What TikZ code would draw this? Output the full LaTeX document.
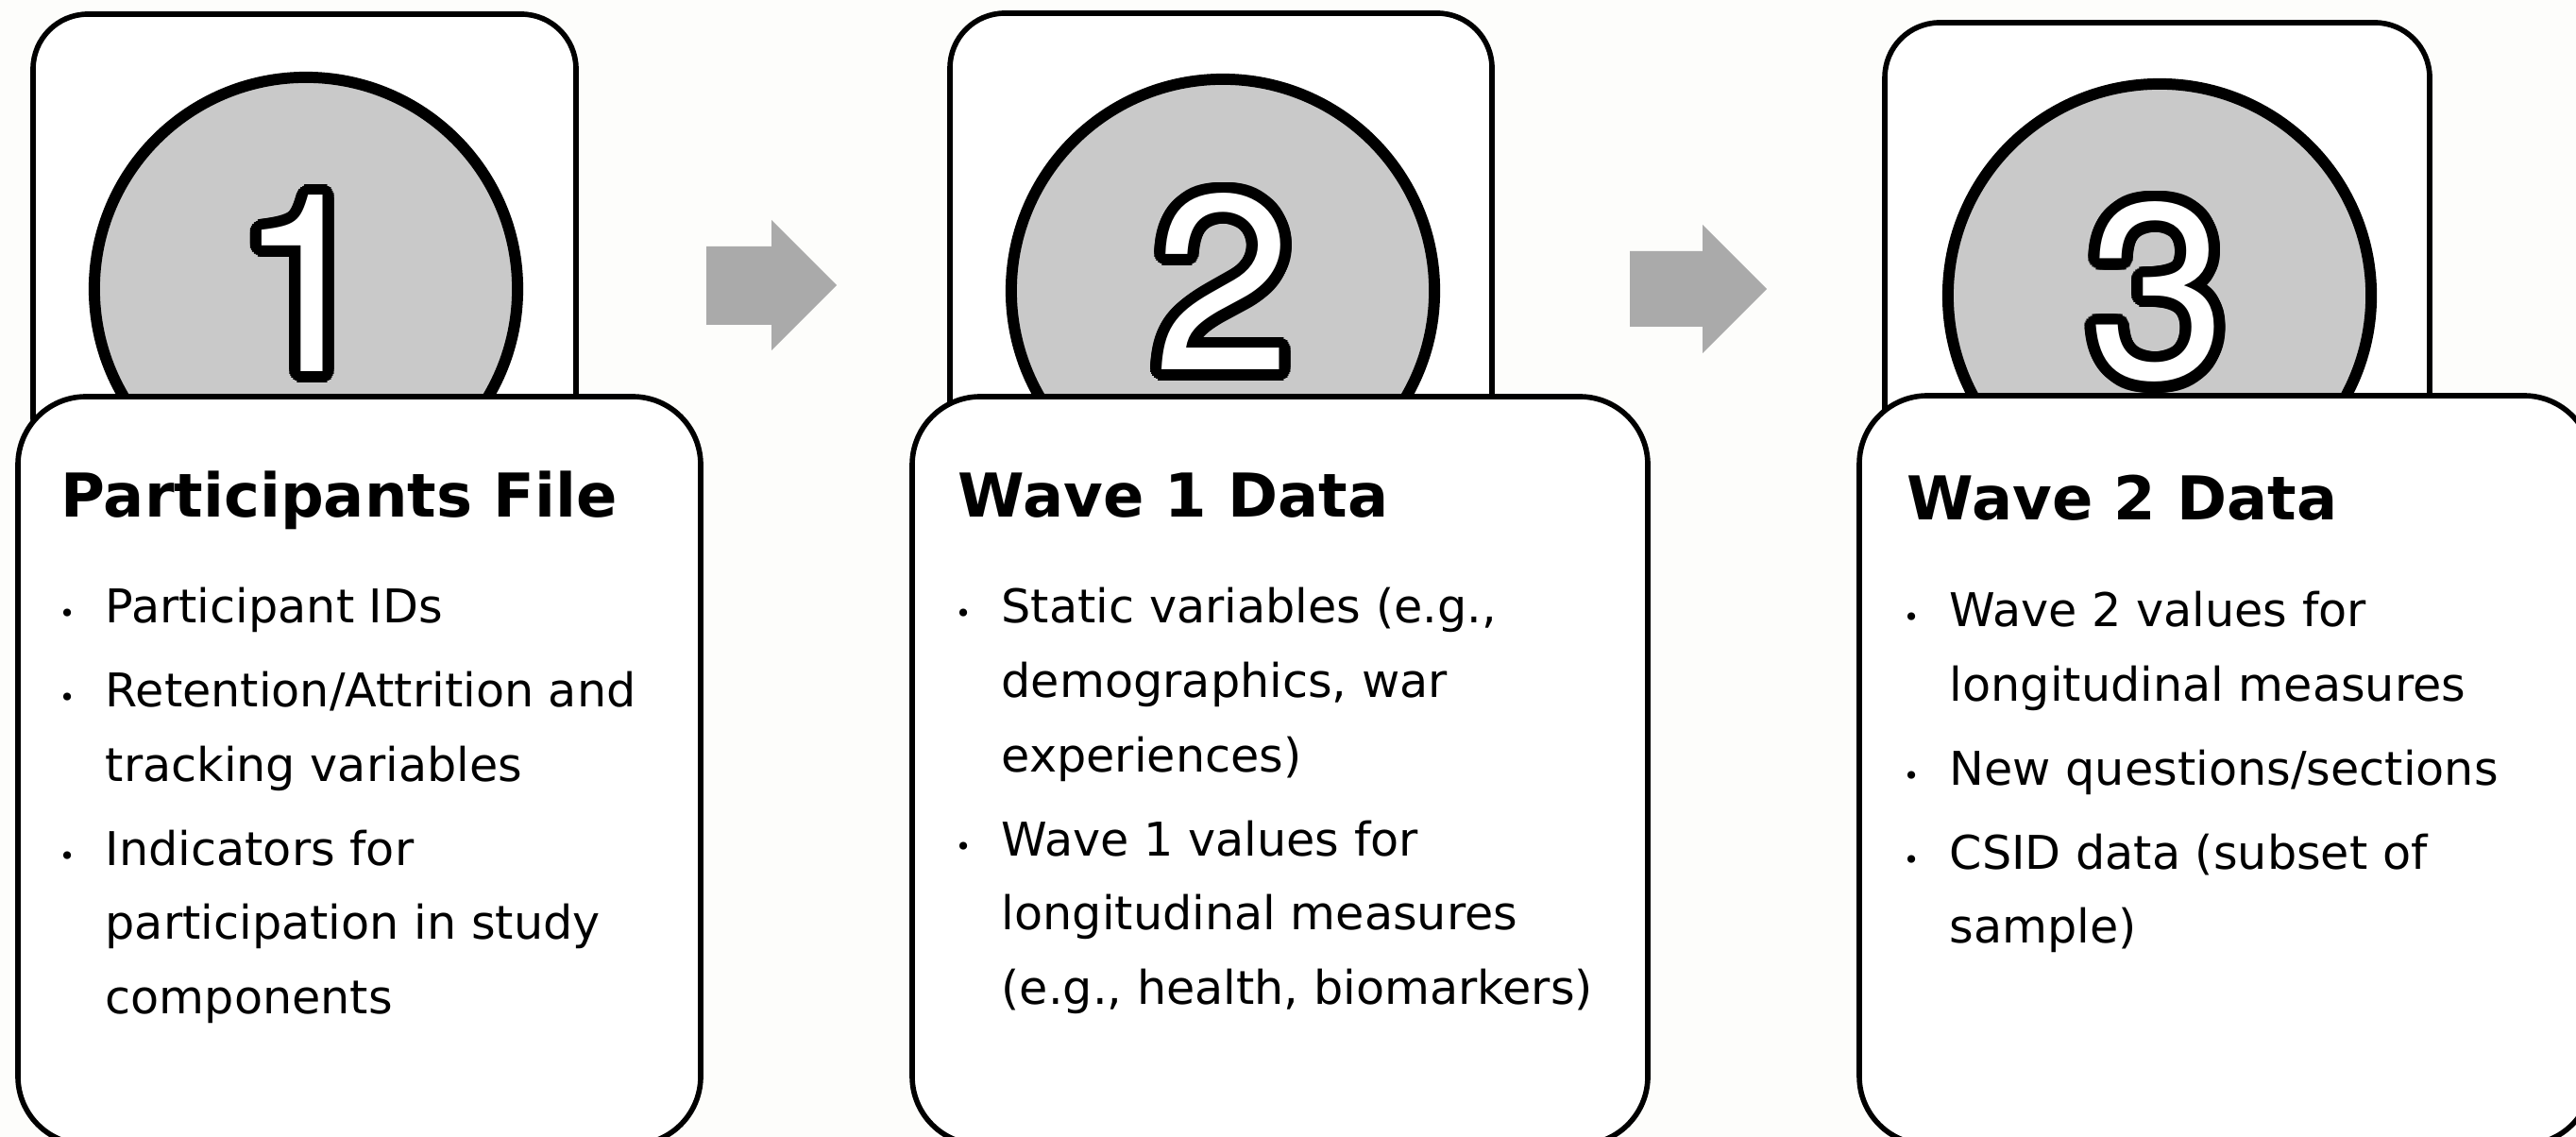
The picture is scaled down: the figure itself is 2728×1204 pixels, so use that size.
\documentclass[tikz,border=0pt]{standalone}
\usepackage{fontspec}
\setmainfont{DejaVu Sans}
\newfontfamily\digitfont{TeX Gyre Heros}
\usepackage{contour}
\contourlength{3.4pt}
\contournumber{32}

\definecolor{discgray}{HTML}{C9C9C9}
\definecolor{arrowgray}{HTML}{AAAAAA}
\definecolor{paper}{HTML}{FDFDFB}

\tikzset{
  backbox/.style={draw=black, line width=1.6pt, fill=white, rounded corners=0.58cm},
  frontbox/.style={draw=black, line width=1.6pt, fill=white, rounded corners=0.72cm},
  disc/.style={circle, draw=black, line width=3.4pt, fill=discgray, minimum size=4.48cm, inner sep=0pt},
  numlabel/.style={anchor=base, inner sep=0pt, text=white},
  heading/.style={anchor=base west, inner sep=0pt, font=\bfseries\fontsize{18.2pt}{22pt}\selectfont},
  itemtext/.style={anchor=base west, inner sep=0pt},
  blockarrow/.style={fill=arrowgray},
}
\newcommand\bignum[1]{\contour{black}{\digitfont\fontsize{75pt}{75pt}\selectfont #1}}
\newcommand\bitem{\noindent\llap{{\fontsize{8pt}{8pt}\selectfont\textbullet}\hspace{9.2pt}}}
\newcommand\itemlist[1]{\parbox[t]{8cm}{\fontsize{14pt}{22.4pt}\selectfont\parskip=2.8pt\raggedright #1}}

\begin{document}
\begin{tikzpicture}[x=0.01cm, y=-0.01cm]
    \fill[paper] (0,0) rectangle (2728,1204);
    \useasboundingbox (0,0) rectangle (2728,1204);

    % back cards
    \draw[backbox] (35,15) rectangle (610,500);
    \draw[backbox] (1006,14) rectangle (1580,500);
    \draw[backbox] (1996,24) rectangle (2573,500);

    % discs and numbers
    \node[disc] (c1) at (324,306) {};
    \node[disc] (c2) at (1295,308) {};
    \node[disc] (c3) at (2287,313) {};
    \node[numlabel] (n1) at (324,394) {\bignum{1}};
    \node[numlabel] (n2) at (1295,392) {\bignum{2}};
    \node[numlabel] (n3) at (2285,401) {\bignum{3}};

    % front cards
    \draw[frontbox] (19,420) rectangle (742,1212);
    \draw[frontbox] (966,420) rectangle (1745,1212);
    \draw[frontbox] (1969,419) rectangle (2745,1212);

    % headings
    \node[heading] (h1) at (64,548) {Participants File};
    \node[heading] (h2) at (1014,548) {Wave 1 Data};
    \node[heading] (h3) at (2019,551) {Wave 2 Data};

    % lists
    \node[itemtext] (l1) at (111,660) {\itemlist{%
        \bitem Participant IDs\par
        \bitem Retention/Attrition and\\tracking variables\par
        \bitem Indicators for\\participation in study\\components}};
    \node[itemtext] (l2) at (1060,660) {\itemlist{%
        \bitem Static variables (e.g.,\\demographics, war\\experiences)\par
        \bitem Wave 1 values for\\longitudinal measures\\(e.g., health, biomarkers)}};
    \node[itemtext] (l3) at (2064,664) {\itemlist{%
        \bitem Wave 2 values for\\longitudinal measures\par
        \bitem New questions/sections\par
        \bitem CSID data (subset of\\sample)}};

    % arrows
    \fill[blockarrow] (748,261) -- (817,261) -- (817,233) -- (886,302)
        -- (817,371) -- (817,344) -- (748,344) -- cycle;
    \fill[blockarrow] (1726,266) -- (1803,266) -- (1803,238) -- (1871,306)
        -- (1803,374) -- (1803,346) -- (1726,346) -- cycle;
\end{tikzpicture}
\end{document}
